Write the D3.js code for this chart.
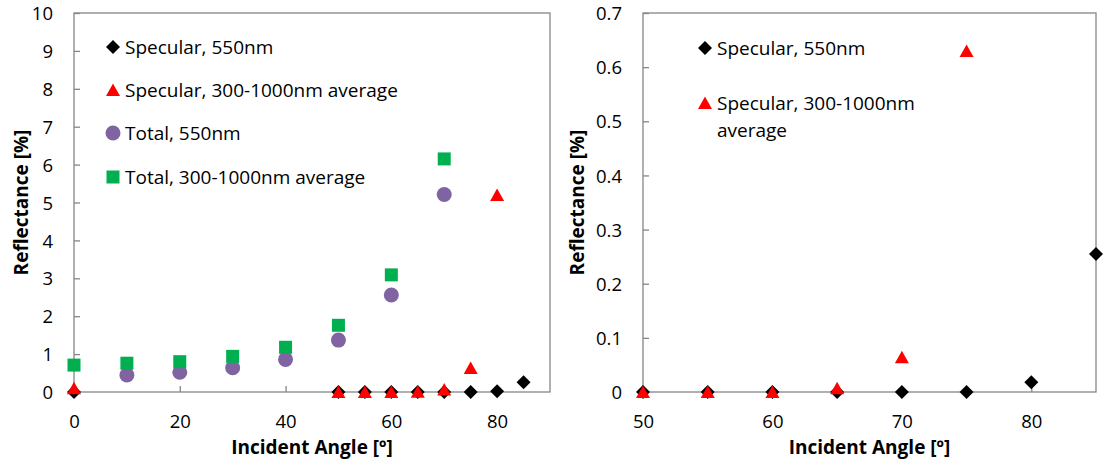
<!DOCTYPE html>
<html>
<head>
<meta charset="utf-8">
<script src="https://cdn.jsdelivr.net/npm/d3@7"></script>
<style>
  body { margin: 0; background: #fff; }
  svg text { font-family: "Open Sans", Lato, sans-serif; fill: #000; }
</style>
</head>
<body>
<svg id="chart" width="1103" height="462"></svg>
<script>
// data
const spec550Angle = [0, 50, 55, 60, 65, 70, 75, 80, 85];
const spec550Value = [0, 0, 0, 0, 0, 0, 0, 0.018, 0.255];
const specAvgAngle = [0, 50, 55, 60, 65, 70, 75, 80];
const specAvgValue = [0.1, 0, 0, 0, 0.007, 0.064, 0.63, 5.2];
const total550Angle = [10, 20, 30, 40, 50, 60, 70];
const total550Value = [0.45, 0.52, 0.64, 0.86, 1.37, 2.56, 5.21];
const totalAvgAngle = [0, 10, 20, 30, 40, 50, 60, 70];
const totalAvgValue = [0.71, 0.76, 0.8, 0.94, 1.18, 1.76, 3.09, 6.15];

const leftXTicks = [0, 20, 40, 60, 80];
const leftYTicks = [0, 1, 2, 3, 4, 5, 6, 7, 8, 9, 10];
const rightXTicks = [50, 60, 70, 80];
const rightYTicks = [0, 0.1, 0.2, 0.3, 0.4, 0.5, 0.6, 0.7];

const seriesNames = ["Specular, 550nm", "Specular, 300-1000nm average", "Total, 550nm", "Total, 300-1000nm average"];

const series = [
  { name: seriesNames[0], xs: spec550Angle, ys: spec550Value, shape: "diamond", color: "#000000" },
  { name: seriesNames[1], xs: specAvgAngle, ys: specAvgValue, shape: "triangle", color: "#ff0000" },
  { name: seriesNames[2], xs: total550Angle, ys: total550Value, shape: "circle", color: "#8064a2" },
  { name: seriesNames[3], xs: totalAvgAngle, ys: totalAvgValue, shape: "square", color: "#00b050" }
];

const svg = d3.select("#chart");
const axisGray = "#868686";

// excel-like marker shapes, centred on the point
function marker(shape) {
  const p = d3.path();
  if (shape === "diamond") {
    p.moveTo(0, -7); p.lineTo(7, 0); p.lineTo(0, 7); p.lineTo(-7, 0); p.closePath();
  } else if (shape === "triangle") {
    p.moveTo(0, -6.5); p.lineTo(7, 6); p.lineTo(-7, 6); p.closePath();
  } else if (shape === "circle") {
    p.arc(0, 0, 7.5, 0, 2 * Math.PI);
  } else {
    p.rect(-6.5, -6.5, 13, 13);
  }
  return p.toString();
}

function drawPanel(opt) {
  const x = d3.scaleLinear().domain(opt.xDomain).range([opt.left, opt.right]);
  const y = d3.scaleLinear().domain(opt.yDomain).range([opt.bottom, opt.top]);
  const g = svg.append("g");

  g.append("rect")
    .attr("x", opt.left).attr("y", opt.top)
    .attr("width", opt.right - opt.left).attr("height", opt.bottom - opt.top)
    .attr("fill", "none").attr("stroke", axisGray).attr("stroke-width", 1.3);

  const xa = g.append("g").attr("transform", `translate(0,${opt.bottom})`)
    .call(d3.axisBottom(x).tickValues(opt.xTicks).tickSize(-6).tickPadding(23).tickFormat(d3.format("d")));
  const ya = g.append("g").attr("transform", `translate(${opt.left},0)`)
    .call(d3.axisLeft(y).tickValues(opt.yTicks).tickSize(-6).tickPadding(opt.yPad).tickFormat(opt.yFormat));
  [xa, ya].forEach(a => {
    a.select(".domain").remove();
    a.selectAll(".tick line").attr("stroke", axisGray).attr("stroke-width", 1.3);
    a.selectAll(".tick text").attr("font-size", 18.5).attr("fill", "#000");
  });
  ya.selectAll(".tick text").attr("dy", "0.36em");

  const clipId = "clip" + opt.left;
  g.append("clipPath").attr("id", clipId).append("rect")
    .attr("x", opt.left - 10).attr("y", opt.top)
    .attr("width", opt.right - opt.left + 20).attr("height", opt.bottom - opt.top + 10);

  const marks = g.append("g").attr("clip-path", `url(#${clipId})`);
  opt.series.forEach(s => {
    const pts = s.xs.map((a, i) => ({ a, v: s.ys[i] }))
      .filter(p => p.a >= opt.xDomain[0] && p.a <= opt.xDomain[1]);
    marks.selectAll(null).data(pts).enter().append("path")
      .attr("d", marker(s.shape))
      .attr("transform", p => `translate(${x(p.a)},${y(p.v)})`)
      .attr("fill", s.color);
  });

  // legend
  const lg = g.append("g");
  opt.legendRows.forEach((row, i) => {
    const s = opt.series[i];
    lg.append("path").attr("d", marker(s.shape))
      .attr("transform", `translate(${opt.legendX},${row.y})`)
      .attr("fill", s.color);
    const t = lg.append("text").attr("y", row.y).attr("font-size", 19);
    row.lines.forEach((ln, j) => {
      t.append("tspan").attr("x", opt.legendX + 12).attr("dy", j === 0 ? "0.36em" : "1.45em").text(ln);
    });
  });

  g.append("text")
    .attr("x", (opt.left + opt.right) / 2).attr("y", 454)
    .attr("text-anchor", "middle").attr("font-size", 19).attr("font-weight", "bold")
    .text("Incident Angle [º]");
  g.append("text")
    .attr("transform", `translate(${opt.titleX},${(opt.top + opt.bottom) / 2}) rotate(-90)`)
    .attr("text-anchor", "middle").attr("font-size", 19).attr("font-weight", "bold")
    .text("Reflectance [%]");
}

drawPanel({
  left: 74, right: 550, top: 13, bottom: 392,
  xDomain: [0, 90], yDomain: [0, 10],
  xTicks: leftXTicks, yTicks: leftYTicks, yPad: 21,
  yFormat: d3.format("d"),
  series: series,
  legendX: 113,
  legendRows: [
    { y: 47, lines: [seriesNames[0]] },
    { y: 90, lines: [seriesNames[1]] },
    { y: 133, lines: [seriesNames[2]] },
    { y: 177, lines: [seriesNames[3]] }
  ],
  titleX: 28
});

drawPanel({
  left: 643, right: 1096, top: 13, bottom: 392,
  xDomain: [50, 85], yDomain: [0, 0.7],
  xTicks: rightXTicks, yTicks: rightYTicks, yPad: 21,
  yFormat: d => d === 0 ? "0" : d3.format(".1f")(d),
  series: series.slice(0, 2),
  legendX: 705,
  legendRows: [
    { y: 48, lines: [seriesNames[0]] },
    { y: 103, lines: ["Specular, 300-1000nm", "average"] }
  ],
  titleX: 584
});
</script>
</body>
</html>
